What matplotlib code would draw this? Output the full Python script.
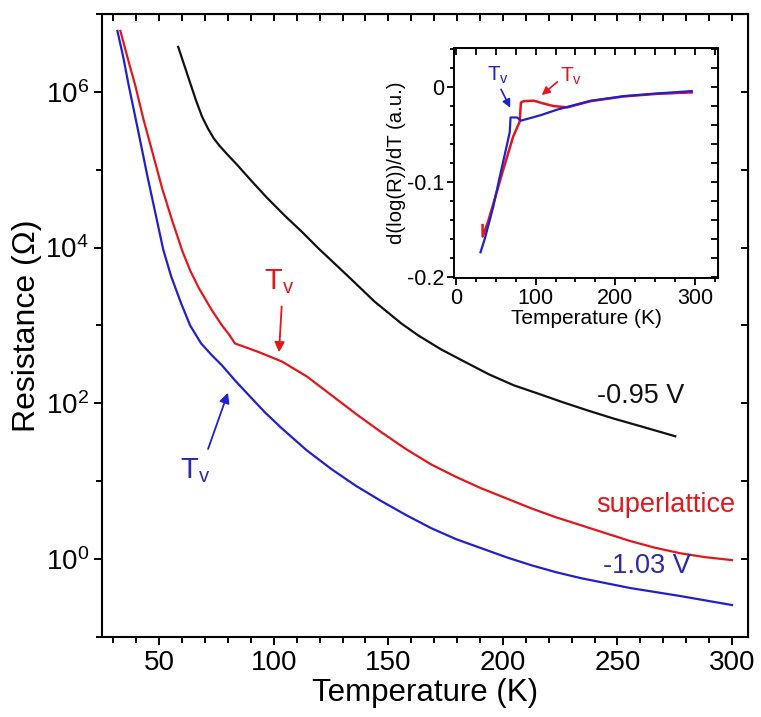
import numpy as np
import matplotlib
matplotlib.use('Agg')
import matplotlib.pyplot as plt
from matplotlib.ticker import NullFormatter, NullLocator

plt.rcParams['font.family'] = ['Liberation Sans', 'DejaVu Sans']
plt.rcParams['mathtext.fontset'] = 'custom'
plt.rcParams['mathtext.rm'] = 'Liberation Sans'
plt.rcParams['mathtext.it'] = 'Liberation Sans:italic'

BLACK = '#111111'
RED = '#e3161b'
BLUE = '#2020d0'
BLUE_TXT = '#2a2ab0'

# R(T) curves: temperature (K) and log10 of resistance (Ohm)
t_095 = [58.26, 60.87, 63.48, 66.09, 68.70, 71.30, 73.91, 76.52, 79.57, 83.91, 90.43, 96.96, 104.78,
         112.17, 119.57, 126.52, 133.91, 143.91, 155.65, 163.04, 173.04, 183.04, 193.91, 204.78,
         215.65, 226.52, 237.39, 248.26, 261.74, 275.22]
lg_095 = [6.577, 6.346, 6.115, 5.885, 5.679, 5.526, 5.397, 5.300, 5.200, 5.065, 4.850, 4.641, 4.410,
          4.205, 3.987, 3.795, 3.590, 3.308, 3.026, 2.872, 2.692, 2.538, 2.372, 2.231,
          2.122, 2.010, 1.905, 1.805, 1.692, 1.577]

t_sl = [33.04, 36.30, 39.57, 43.04, 46.96, 51.30, 55.65, 60.00, 63.48, 67.39, 73.04, 77.39, 80.43,
        83.04, 92.61, 103.48, 114.35, 125.22, 136.09, 146.96, 157.83, 168.70, 179.57, 190.43,
        201.30, 212.17, 223.04, 233.91, 244.78, 255.65, 266.52, 277.39, 288.26, 300.00]
lg_sl = [6.782, 6.423, 6.077, 5.654, 5.231, 4.756, 4.346, 3.962, 3.705, 3.474, 3.192, 3.000, 2.885,
         2.769, 2.667, 2.538, 2.346, 2.103, 1.859, 1.628, 1.410, 1.215, 1.055, 0.910,
         0.782, 0.654, 0.538, 0.436, 0.333, 0.231, 0.145, 0.075, 0.025, -0.013]

t_103 = [31.74, 34.35, 36.52, 38.70, 40.87, 44.78, 48.26, 51.74, 55.22, 59.57, 63.48, 68.26, 73.04,
         77.39, 83.04, 89.13, 96.09, 103.48, 114.35, 125.22, 136.09, 146.96, 157.83, 168.70,
         179.57, 190.43, 201.30, 212.17, 223.04, 233.91, 244.78, 255.65, 266.52, 277.39, 288.26, 300.00]
lg_103 = [6.782, 6.436, 6.103, 5.795, 5.487, 4.923, 4.449, 3.974, 3.628, 3.282, 3.000, 2.769, 2.615,
          2.487, 2.295, 2.103, 1.885, 1.679, 1.397, 1.154, 0.936, 0.744, 0.564, 0.397,
          0.256, 0.141, 0.026, -0.077, -0.167, -0.244, -0.308, -0.372, -0.423, -0.474, -0.530, -0.590]

# derivative d(log R)/dT
dt_sl = [33.3, 33.5, 40, 46.7, 59.2, 71.7, 80, 81.5, 85, 97.5, 110, 122.5, 140, 169, 211, 252.5, 296]
dv_sl = [-0.145, -0.157, -0.142, -0.123, -0.087, -0.052, -0.036, -0.016, -0.0145, -0.014, -0.017, -0.0197,
         -0.021, -0.0145, -0.0095, -0.0068, -0.0053]
dt_103 = [30.8, 36.3, 46.7, 55, 63.3, 67.5, 68.5, 76.7, 81.7, 106.7, 127.5, 169, 211, 252.5, 296]
dv_103 = [-0.1736, -0.159, -0.126, -0.094, -0.063, -0.047, -0.0317, -0.0317, -0.035, -0.0292, -0.0233,
          -0.0141, -0.0092, -0.0064, -0.0039]

fig = plt.figure(figsize=(7.61, 7.17), dpi=100)
ax = fig.add_axes([0.134, 0.1116, 0.849, 0.869])

ax.plot(t_095, np.power(10.0, lg_095), color=BLACK, lw=1.6)
ax.plot(t_sl, np.power(10.0, lg_sl), color=RED, lw=1.6)
ax.plot(t_103, np.power(10.0, lg_103), color=BLUE, lw=1.6)

ax.set_yscale('log')
ax.set_xlim(25, 307)
ax.set_ylim(1e-1, 1e7)
ax.set_xticks([50, 100, 150, 200, 250, 300])
ax.set_xticks(np.arange(30, 301, 10), minor=True)
ax.set_yticks([1e0, 1e2, 1e4, 1e6])
ax.set_yticklabels([r'$\mathregular{10^{%d}}$' % p for p in (0, 2, 4, 6)])
ax.set_yticks([1e-1, 1e1, 1e3, 1e5, 1e7], minor=True)
ax.yaxis.set_minor_formatter(NullFormatter())
ax.tick_params(which='both', direction='out', width=1.4, labelsize=20)
ax.tick_params(which='major', length=6)
ax.tick_params(which='minor', length=4)
for s in ax.spines.values():
    s.set_linewidth(1.5)

top = ax.secondary_xaxis('top')
top.set_xticks(np.arange(30, 301, 10))
top.tick_params(direction='in', length=5, width=1.4, labeltop=False)
right = ax.secondary_yaxis('right')
right.set_yticks([1e-1, 1e0, 1e1, 1e2, 1e3, 1e4, 1e5, 1e6, 1e7])
right.yaxis.set_minor_locator(NullLocator())
right.tick_params(direction='in', length=5, width=1.4, labelright=False)

ax.set_xlabel('Temperature (K)', fontsize=22.5, labelpad=1)
ax.set_ylabel('Resistance (Ω)', fontsize=23, labelpad=2)

ax.text(260, 10**2.10, '-0.95 V', color=BLACK, fontsize=19.5, ha='center', va='center')
ax.text(271, 10**0.69, 'superlattice', color=RED, fontsize=19.5, ha='center', va='center')
ax.text(263, 10**-0.09, '-1.03 V', color=BLUE_TXT, fontsize=19.5, ha='center', va='center')

# Verwey transition markers
ax.annotate('', xy=(102.2, 10**2.62), xytext=(103.5, 10**3.28),
            arrowprops=dict(arrowstyle='-|>', color=RED, lw=1.3, mutation_scale=15))
ax.text(102.2, 10**3.56, r'T$_\mathregular{v}$', color=RED, fontsize=21, ha='center', va='center')
ax.annotate('', xy=(80.4, 10**2.17), xytext=(70.9, 10**1.38),
            arrowprops=dict(arrowstyle='-|>', color=BLUE, lw=1.3, mutation_scale=15))
ax.text(65.7, 10**1.14, r'T$_\mathregular{v}$', color=BLUE_TXT, fontsize=21, ha='center', va='center')

# inset: derivative
ins = fig.add_axes([0.5966, 0.6123, 0.3469, 0.3208])
ins.plot(dt_sl, dv_sl, color=RED, lw=1.8)
ins.plot(dt_103, dv_103, color=BLUE, lw=1.6)
ins.set_xlim(-2.5, 329)
ins.set_ylim(-0.2007, 0.0415)
ins.set_xticks([0, 100, 200, 300])
ins.set_xticks(np.arange(0, 326, 25), minor=True)
ins.set_yticks([-0.2, -0.1, 0])
ins.set_yticklabels(['-0.2', '-0.1', '0'])
ins.set_yticks(np.arange(-0.2, 0.041, 0.02), minor=True)
ins.tick_params(which='both', direction='out', width=1.3, labelsize=15.5, pad=2)
ins.tick_params(which='major', length=5)
ins.tick_params(which='minor', length=3)
for s in ins.spines.values():
    s.set_linewidth(1.4)
itop = ins.secondary_xaxis('top')
itop.set_xticks(np.arange(0, 326, 25))
itop.tick_params(direction='in', length=5, width=1.3, labeltop=False)
iright = ins.secondary_yaxis('right')
iright.set_yticks(np.arange(-0.2, 0.041, 0.02))
iright.tick_params(direction='in', length=5, width=1.3, labelright=False)
ins.set_xlabel('Temperature (K)', fontsize=15, labelpad=0)
ins.set_ylabel('d(log(R))/dT (a.u.)', fontsize=14.7, labelpad=1)

ins.annotate('', xy=(69.6, -0.024), xytext=(55, 0.0006),
             arrowprops=dict(arrowstyle='-|>', color=BLUE, lw=1.2, mutation_scale=12))
ins.text(52.5, 0.013, r'T$_\mathregular{v}$', color=BLUE, fontsize=15, ha='center', va='center')
ins.annotate('', xy=(105, -0.0099), xytext=(130, 0.0077),
             arrowprops=dict(arrowstyle='-|>', color=RED, lw=1.2, mutation_scale=12))
ins.text(144.6, 0.0112, r'T$_\mathregular{v}$', color=RED, fontsize=15, ha='center', va='center')

fig.savefig('out.png', dpi=100)
